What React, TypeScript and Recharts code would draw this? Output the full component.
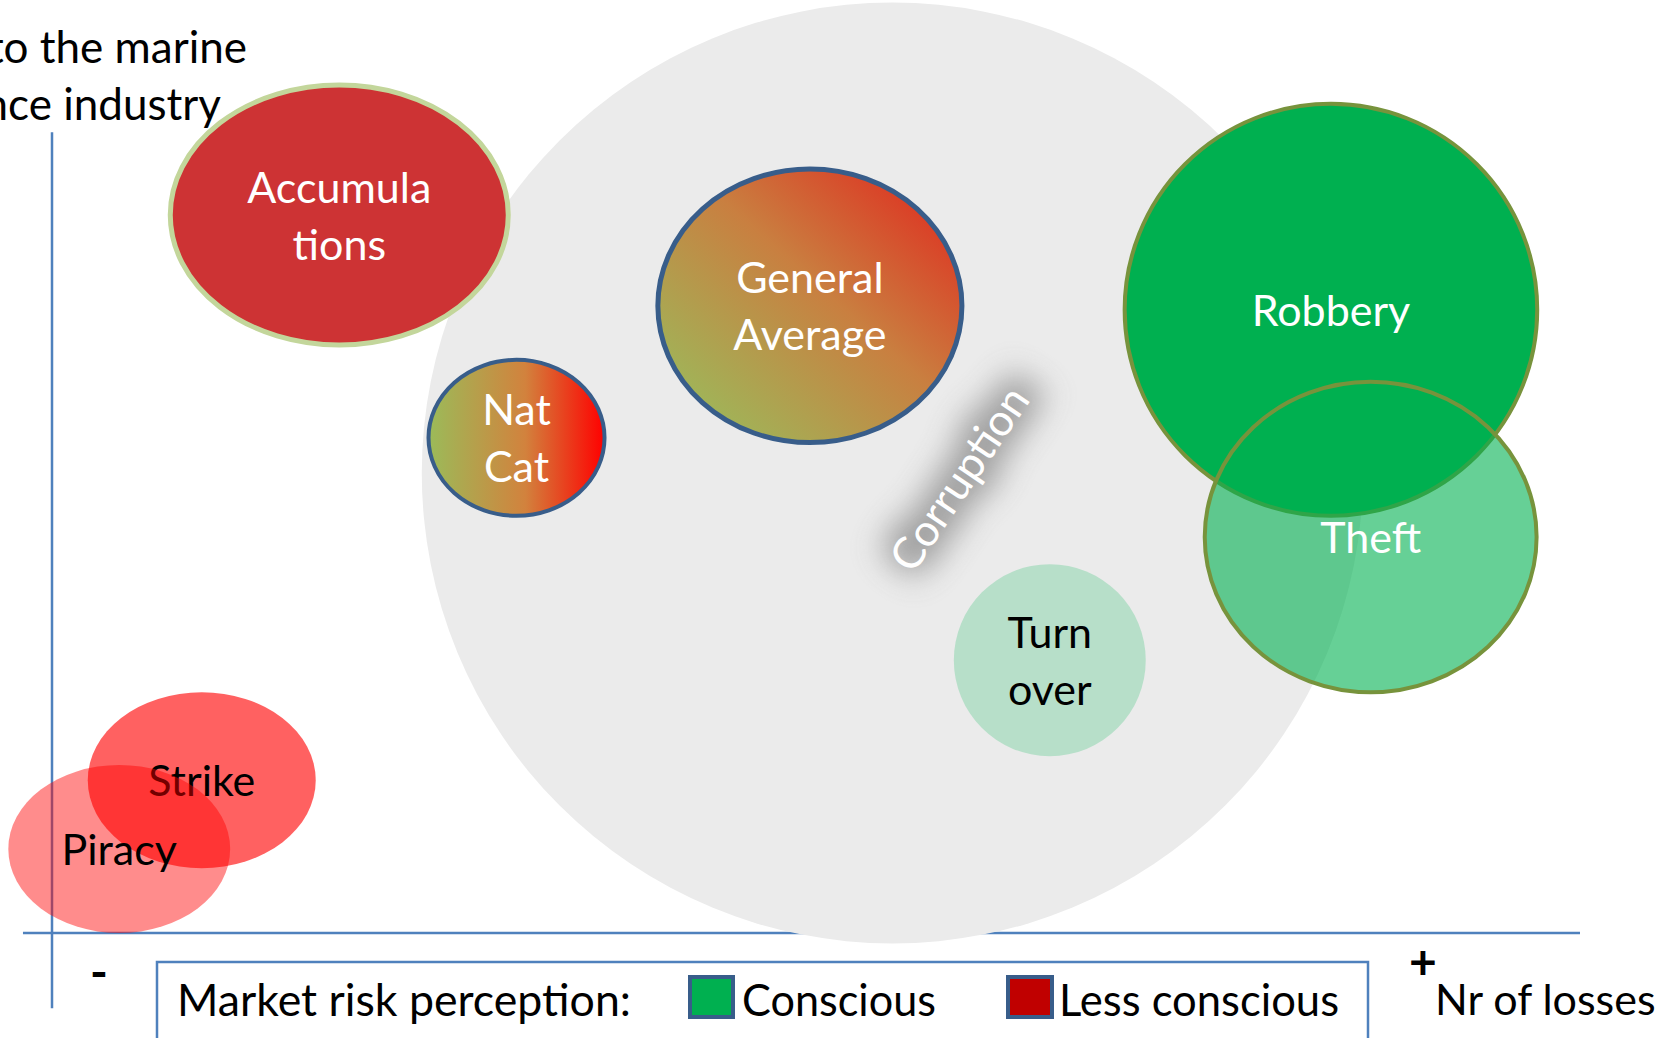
import React from 'react';
import { ScatterChart, Scatter, XAxis, YAxis, ReferenceLine, ReferenceDot, Customized } from 'recharts';

// bubble data (x: nr of losses, y: relevance, 0-100)
const riskNames = ['Corruption', 'Accumulations', 'Nat Cat', 'General Average', 'Robbery', 'Theft', 'Turn over', 'Strike', 'Piracy'];
const lossCount = [55.0, 18.8, 30.4, 49.6, 83.7, 86.3, 65.3, 9.8, 4.4];
const relevance = [57.5, 89.75, 61.9, 78.4, 77.9, 49.5, 34.1, 19.1, 10.5];
const spreadX = [30.8, 11.06, 5.76, 9.95, 13.5, 10.86, 6.28, 7.46, 7.26];
const spreadY = [58.8, 16.25, 9.75, 17.1, 25.75, 19.4, 12.0, 11.0, 10.5];
const labelLines = [[], ['Accumula', 'tions'], ['Nat', 'Cat'], ['General', 'Average'], ['Robbery'], ['Theft'], ['Turn', 'over'], ['Strike'], ['Piracy']];

const corruptionLabel = { text: 'Corruption', x: 59.4, y: 56.75 };

const axisTitle = ['Relevance to the marine', 'insurance industry'];
const xAxisTitle = 'Nr of losses';
const legendTitle = 'Market risk perception:';
const legendLabels = ['Conscious', 'Less conscious'];
const legendColors = ['#00b050', '#c00000'];

const W = 1676;
const H = 1038;
const MARGIN = { top: 133, right: 96, bottom: 105, left: 52 };
const PX_X = (W - MARGIN.left - MARGIN.right) / 100;
const PX_Y = (H - MARGIN.top - MARGIN.bottom) / 100;
const FONT = 'Lato, "Open Sans", sans-serif';

const bubbleStyle: Record<string, { fill: string; stroke?: string; sw?: number; text: string }> = {
  Corruption: { fill: '#ebebeb', text: '#fff' },
  Accumulations: { fill: '#cd3334', stroke: '#c3d69b', sw: 5, text: '#fff' },
  'Nat Cat': { fill: 'url(#natcat)', stroke: '#385d8a', sw: 4, text: '#fff' },
  'General Average': { fill: 'url(#genavg)', stroke: '#385d8a', sw: 5, text: '#fff' },
  Robbery: { fill: '#00b050', stroke: '#77933c', sw: 4, text: '#fff' },
  Theft: { fill: 'rgba(0,176,80,0.6)', stroke: '#77933c', sw: 4, text: '#fff' },
  'Turn over': { fill: '#b7dfc9', text: '#000' },
  Strike: { fill: 'rgba(255,0,0,0.62)', text: '#000' },
  Piracy: { fill: 'rgba(255,0,0,0.45)', text: '#000' },
};

const bubbles = riskNames.map((name, i) => ({
  name,
  x: lossCount[i],
  y: relevance[i],
  rx: spreadX[i],
  ry: spreadY[i],
  lines: labelLines[i],
}));

const Bubble = (props: any) => {
  const { cx, cy, payload } = props;
  const st = bubbleStyle[payload.name];
  const lines: string[] = payload.lines;
  const offsets = lines.length === 2 ? [-12.5, 44.5] : [16];
  return (
    <g>
      <ellipse
        cx={cx}
        cy={cy}
        rx={payload.rx * PX_X}
        ry={payload.ry * PX_Y}
        fill={st.fill}
        stroke={st.stroke || 'none'}
        strokeWidth={st.sw || 0}
      />
      {lines.map((l, k) => (
        <text key={k} x={cx} y={cy + offsets[k]} textAnchor="middle" fill={st.text} fontSize={43} fontFamily={FONT}>
          {l}
        </text>
      ))}
    </g>
  );
};

const CorruptionText = (props: any) => {
  const { cx, cy } = props;
  return (
    <g transform={`rotate(-56 ${cx} ${cy})`}>
      <text
        x={cx + 6}
        y={cy + 14}
        textAnchor="middle"
        fontSize={44}
        fontFamily={FONT}
        fill="#8a8a8a"
        stroke="#8a8a8a"
        strokeWidth={22}
        strokeLinejoin="round"
        opacity={0.8}
        filter="url(#glow)"
      >
        {corruptionLabel.text}
      </text>
      <text x={cx} y={cy + 15} textAnchor="middle" fontSize={44} fontFamily={FONT} fill="#fff">
        {corruptionLabel.text}
      </text>
    </g>
  );
};

const Decorations = () => (
  <g fontFamily={FONT}>
    <text x={247} y={63} textAnchor="end" fontSize={44} fill="#000">{axisTitle[0]}</text>
    <text x={221} y={120} textAnchor="end" fontSize={44} fill="#000">{axisTitle[1]}</text>
    <text x={99} y={989} textAnchor="middle" fontSize={48} fontWeight="bold" fill="#000">-</text>
    <text x={1423} y={979} textAnchor="middle" fontSize={48} fontWeight="bold" fill="#000">+</text>
    <text x={1435} y={1015} fontSize={43} fill="#000">{xAxisTitle}</text>
    <rect x={157} y={962} width={1211} height={110} fill="#fff" stroke="#4f81bd" strokeWidth={2.5} />
    <text x={177} y={1016} fontSize={44} fill="#000" textLength={454} lengthAdjust="spacingAndGlyphs">{legendTitle}</text>
    <rect x={690} y={977} width={43} height={40} fill={legendColors[0]} stroke="#385d8a" strokeWidth={4} />
    <text x={742} y={1016} fontSize={44} fill="#000" textLength={194} lengthAdjust="spacingAndGlyphs">{legendLabels[0]}</text>
    <rect x={1008} y={977} width={44} height={40} fill={legendColors[1]} stroke="#385d8a" strokeWidth={4} />
    <text x={1059} y={1016} fontSize={44} fill="#000" textLength={280} lengthAdjust="spacingAndGlyphs">{legendLabels[1]}</text>
  </g>
);

export default function App() {
  return (
    <div style={{ position: 'absolute', left: 0, top: 0, width: W, height: H, background: '#fff' }}>
      <ScatterChart width={W} height={H} margin={MARGIN}>
        <defs>
          <linearGradient id="natcat" x1="0" y1="0" x2="1" y2="0">
            <stop offset="0%" stopColor="#9bbb59" />
            <stop offset="55%" stopColor="#d2823d" />
            <stop offset="100%" stopColor="#ff0000" />
          </linearGradient>
          <linearGradient id="genavg" x1="0" y1="1" x2="1" y2="0">
            <stop offset="15%" stopColor="#a2b257" />
            <stop offset="55%" stopColor="#c97f40" />
            <stop offset="90%" stopColor="#dd3623" />
          </linearGradient>
          <filter id="glow" x="-50%" y="-150%" width="200%" height="400%">
            <feGaussianBlur stdDeviation="16" />
          </filter>
        </defs>
        <XAxis type="number" dataKey="x" domain={[0, 100]} hide />
        <YAxis type="number" dataKey="y" domain={[0, 100]} hide />
        <Scatter data={bubbles} shape={Bubble} isAnimationActive={false} />
        <ReferenceDot x={corruptionLabel.x} y={corruptionLabel.y} shape={CorruptionText} ifOverflow="visible" />
        <ReferenceLine segment={[{ x: 0, y: -9.4 }, { x: 0, y: 100.1 }]} stroke="#4f81bd" strokeWidth={2.5} ifOverflow="visible" />
        <ReferenceLine segment={[{ x: -1.9, y: 0 }, { x: 100, y: 0 }]} stroke="#4f81bd" strokeWidth={2.5} ifOverflow="visible" />
        <Customized component={Decorations} />
      </ScatterChart>
    </div>
  );
}
